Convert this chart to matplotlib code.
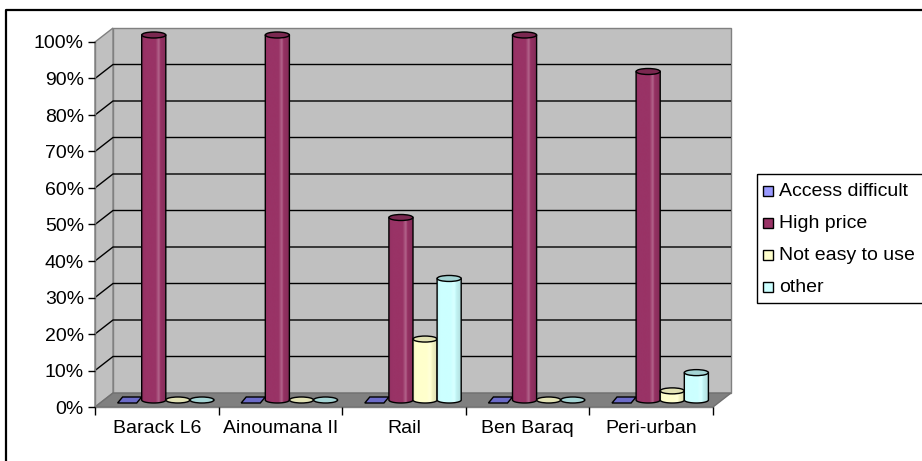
import numpy as np
import matplotlib
matplotlib.use("Agg")
import matplotlib.pyplot as plt
from matplotlib.patches import Polygon, Ellipse, PathPatch, Rectangle
from matplotlib.path import Path
from matplotlib.lines import Line2D
from matplotlib.colors import to_rgb
from matplotlib.transforms import Affine2D

plt.rcParams["font.family"] = ["Liberation Sans", "DejaVu Sans"]

# ---- data -------------------------------------------------------------
categories = ["Barack L6", "Ainoumana II", "Rail", "Ben Baraq", "Peri-urban"]
series_names = ["Access difficult", "High price", "Not easy to use", "other"]
access_difficult = [0, 0, 0, 0, 0]
high_price = [100, 100, 50, 100, 90]
not_easy_to_use = [0, 0, 16.7, 0, 2.5]
other = [0, 0, 33.3, 0, 7.5]
y_ticks = [0, 10, 20, 30, 40, 50, 60, 70, 80, 90, 100]
y_tick_labels = [f"{v}%" for v in y_ticks]

series_values = [access_difficult, high_price, not_easy_to_use, other]
body_colors = ["#9999FF", "#993366", "#FFFFCC", "#CCFFFF"]
top_colors = ["#6B6BC8", "#7A2850", "#E2E2B4", "#A4D4D4"]

# ---- geometry ---------------------------------------------------------
W, H = 922, 461
PX_X = 123.6      # pixels per category
PX_Y = 3.65       # pixels per percent
X0PX, Y0PX = 95, 407
XLIM = (-0.3, 5.5)
YLIM = (-5, 106)
DX = 18 / PX_X    # depth offset of the back wall
DY = 14 / PX_Y
GAP = 0.11
BW = 0.195
EH = 6 / PX_Y     # ellipse height of cylinder caps

fig = plt.figure(figsize=(W / 100, H / 100), dpi=100)
left = (X0PX + XLIM[0] * PX_X) / W
width = (XLIM[1] - XLIM[0]) * PX_X / W
bottom = (H - (Y0PX - YLIM[0] * PX_Y)) / H
height = (YLIM[1] - YLIM[0]) * PX_Y / H
ax = fig.add_axes([left, bottom, width, height])
ax.set_autoscale_on(False)
ax.set_xlim(*XLIM)
ax.set_ylim(*YLIM)
ax.patch.set_visible(False)

n = len(categories)

# walls and floor
ax.add_patch(Polygon([(DX, DY), (n + DX, DY), (n + DX, 100 + DY), (DX, 100 + DY)],
                     closed=True, fc="#C0C0C0", ec="#808080", lw=1, zorder=1))
ax.add_patch(Polygon([(0, 0), (DX, DY), (DX, 100 + DY), (0, 100)],
                     closed=True, fc="#C0C0C0", ec="#808080", lw=1, zorder=1))
for v in y_ticks[1:-1]:
    ax.plot([0, DX, n + DX], [v, v + DY, v + DY], color="black", lw=1, zorder=1.1,
            solid_capstyle="butt")
ax.add_patch(Polygon([(0, 0), (n, 0), (n + DX, DY), (DX, DY)],
                     closed=True, fc="#808080", ec="#707070", lw=1, zorder=1.2))

# axes spines, ticks and labels
for s in ["top", "right"]:
    ax.spines[s].set_visible(False)
ax.spines["left"].set_position(("data", 0))
ax.spines["left"].set_bounds(0, 100)
ax.spines["bottom"].set_position(("data", 0))
ax.spines["bottom"].set_bounds(0, n)
for s in ["left", "bottom"]:
    ax.spines[s].set_color("#808080")
    ax.spines[s].set_linewidth(1)
    ax.spines[s].set_zorder(1.5)

ax.set_yticks(y_ticks)
ax.set_yticklabels(y_tick_labels)
ax.tick_params(axis="y", direction="out", length=5, width=1, color="black",
               labelsize=14, pad=3)
ax.set_xticks(np.arange(n + 1))
ax.set_xticklabels([])
ax.tick_params(axis="x", which="major", direction="out", length=6, width=1, color="black")
ax.set_xticks(np.arange(n) + 0.5, minor=True)
ax.set_xticklabels(categories, minor=True)
ax.tick_params(axis="x", which="minor", length=0, labelsize=14, pad=9)


def shade(color, f):
    c = np.array(to_rgb(color))
    if f >= 1:
        return c + (1 - c) * (f - 1) * 2.5
    return c * f


t_prof = [0.0, 0.1, 0.55, 0.68, 0.76, 1.0]
f_prof = [0.93, 1.0, 1.0, 1.1, 0.96, 0.86]


def cylinder(xc, val, body, top, z):
    x0, x1 = xc - BW / 2, xc + BW / 2
    base = DY / 2
    ytop = val + DY / 2
    th = np.linspace(np.pi, 2 * np.pi, 40)
    xs = xc + BW / 2 * np.cos(th)
    ys = base + EH / 2 * np.sin(th)
    verts = list(zip(xs, ys)) + [(x1, ytop), (x0, ytop), (x0, base)]
    codes = [Path.MOVETO] + [Path.LINETO] * (len(verts) - 2) + [Path.CLOSEPOLY]
    body_patch = PathPatch(Path(verts, codes), fc="none", ec="black", lw=1, zorder=z + 0.01)
    ax.add_patch(body_patch)
    tt = np.linspace(0, 1, 64)
    ff = np.interp(tt, t_prof, f_prof)
    grad = np.clip(np.array([[shade(body, f) for f in ff]]), 0, 1)
    im = ax.imshow(grad, extent=[x0, x1, base - EH / 2, ytop], aspect="auto",
                   interpolation="bilinear", zorder=z, origin="lower")
    im.set_clip_path(body_patch)
    ax.add_patch(Ellipse((xc, ytop), BW, EH, fc=top, ec="black", lw=1, zorder=z + 0.02))


z = 3
for j in range(n):
    for i, vals in enumerate(series_values):
        xc = j + GAP + (i + 0.5) * BW + DX / 2
        v = vals[j]
        if v > 0:
            cylinder(xc, v, body_colors[i], top_colors[i], z)
        elif i == 0:
            s = 5 / PX_X
            yb, yt = DY / 2 - EH / 2, DY / 2 + EH / 2
            x0, x1 = xc - BW / 2, xc + BW / 2
            ax.add_patch(Polygon([(x0, yb), (x1 - s, yb), (x1, yt), (x0 + s, yt)],
                                 closed=True, fc=top_colors[i], ec="black", lw=1, zorder=z))
        else:
            ax.add_patch(Ellipse((xc, DY / 2), BW, EH, fc=top_colors[i], ec="black",
                                 lw=1, zorder=z))
        z += 0.1

# ---- legend and frame, in pixel units from the top-left corner ----------
px = Affine2D().scale(1 / W, -1 / H).translate(0, 1) + fig.transFigure
fig.add_artist(Rectangle((757, 174), 200, 129, fill=False, ec="black", lw=1,
                         transform=px, clip_on=False))
for k, name in enumerate(series_names):
    cy = 191 + 32 * k
    fig.add_artist(Rectangle((763, cy - 5), 10, 10, fc=body_colors[k], ec="black", lw=1,
                             transform=px, clip_on=False))
    fig.text(779 / W, 1 - cy / H, name, fontsize=14, va="center", ha="left")

fig.add_artist(Line2D([6, 6, 930], [470, 10, 10], transform=px, color="black", lw=1.6,
                      clip_on=False))

fig.savefig("out.png", dpi=100)
